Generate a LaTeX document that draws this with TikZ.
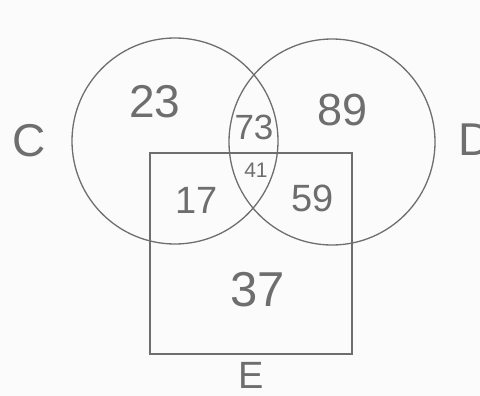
\documentclass[tikz,border=0pt]{standalone}
\usepackage{fontspec}
\setsansfont{Liberation Sans}
\usetikzlibrary{positioning}
\definecolor{pencil}{HTML}{6E6E6E}
\definecolor{paper}{HTML}{FBFBFB}

\begin{document}
\begin{tikzpicture}[
  x=1pt,y=-1pt,
  font=\sffamily,
  setcirc/.style={circle,draw=pencil,line width=1.3pt,minimum size=206pt,inner sep=0pt},
  setbox/.style={rectangle,draw=pencil,line width=1.3pt,minimum width=202pt,minimum height=201pt,inner sep=0pt},
  num/.style={text=pencil,inner sep=0pt},
  setname/.style={text=pencil,inner sep=0pt}
]
\fill[paper] (0,0) rectangle (480,396);
\useasboundingbox (0,0) rectangle (480,396);

% sets
\node[setcirc] (setC) at (175,141) {};
\node[setcirc] (setD) at (332,142) {};
\node[setbox] (setE) at (251,253.5) {};

% set names
\node[setname,font=\sffamily\fontsize{46}{46}\selectfont,left=25pt of setC] (nameC) {C};
\node[setname,font=\sffamily\fontsize{46}{46}\selectfont,anchor=west] (nameD) at (458,140) {D};
\node[setname,font=\sffamily\fontsize{38}{38}\selectfont,below=8pt of setE] (nameE) {E};

% region counts
\node[num,font=\sffamily\fontsize{46}{46}\selectfont] (onlyC) at (155,102) {23};
\node[num,font=\sffamily\fontsize{45}{45}\selectfont] (onlyD) at (343,110) {89};
\node[num,font=\sffamily\fontsize{35}{35}\selectfont] (cd) at (254,127) {73};
\node[num,font=\sffamily\fontsize{21}{21}\selectfont] (cde) at (256,170) {41};
\node[num,font=\sffamily\fontsize{38}{38}\selectfont] (ce) at (197,200) {17};
\node[num,font=\sffamily\fontsize{38}{38}\selectfont] (de) at (313,198) {59};
\node[num,font=\sffamily\fontsize{49}{49}\selectfont] (onlyE) at (258,290) {37};
\end{tikzpicture}
\end{document}
